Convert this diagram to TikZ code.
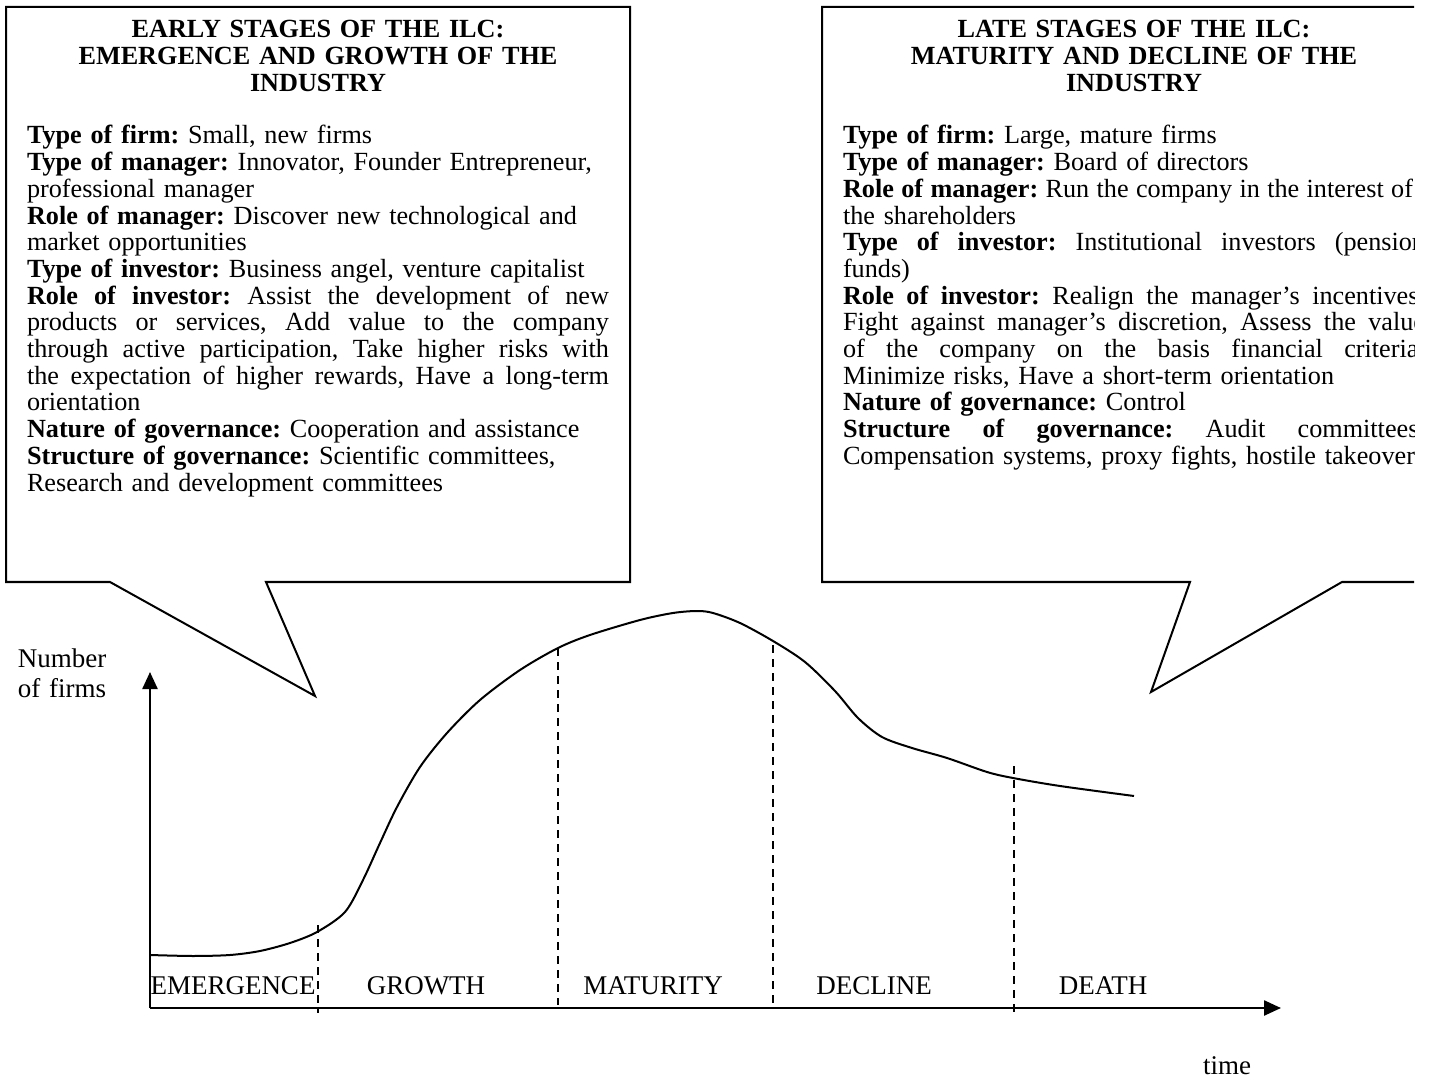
\documentclass[tikz,border=0pt]{standalone}
\usepackage{fontspec}
\setmainfont{Liberation Serif}
\usetikzlibrary{arrows.meta}
\frenchspacing
\newcommand{\jline}[1]{\leavevmode\hbox to\linewidth{\spaceskip=0.25em plus 3em minus 0.05em\relax #1}}
\newcommand{\kline}[2]{\leavevmode\hbox to #1{\spaceskip=0.25em plus 3em minus 0.08em\relax #2}\hfil}
\newcommand{\rline}[1]{\leavevmode\hbox to\linewidth{#1\hfil}}
\begin{document}
\begin{tikzpicture}[x=0.5pt,y=-0.5pt,
  txt/.style={font=\fontsize{13.5}{15}\selectfont, inner sep=0pt, outer sep=0pt},
  body/.style={txt, font=\fontsize{13.1}{13.35}\selectfont, text width=291pt, align=left, anchor=base west},
  ttl/.style={txt, font=\fontsize{13.1}{13.3}\selectfont\bfseries, text width=312pt, align=center, anchor=base},
  boxline/.style={line width=1pt, line join=miter},
  axisline/.style={line width=1.2pt, -{Triangle[length=8.5pt,width=7.5pt]}},
  curveline/.style={line width=1pt},
  divider/.style={line width=1pt, dash pattern=on 4pt off 3pt},
  stage/.style={txt, anchor=base}]
\useasboundingbox (0,0) rectangle (1429,1079);
\begin{scope}
\clip (0,0) rectangle (1414,1079);
% callout boxes
\draw[boxline] (266,582) -- (630,582) -- (630,7) -- (6,7) -- (6,582) -- (110,582) -- (315,696) -- cycle;
\draw[boxline] (1342,582) -- (1446,582) -- (1446,7) -- (822,7) -- (822,582) -- (1190,582) -- (1151,692) -- cycle;
% titles
\node[ttl] (t1) at (318,38) {EARLY STAGES OF THE ILC:\\EMERGENCE AND GROWTH OF THE\\INDUSTRY};
\node[ttl] (t2) at (1134,38) {LATE STAGES OF THE ILC:\\MATURITY AND DECLINE OF THE\\INDUSTRY};
% bodies
\node[body] (b1) at (27,144) {%
\rline{\textbf{Type of firm:} Small, new firms}\\
\rline{\textbf{Type of manager:} Innovator, Founder Entrepreneur,}\\
\rline{professional manager}\\
\rline{\textbf{Role of manager:} Discover new technological and}\\
\rline{market opportunities}\\
\rline{\textbf{Type of investor:} Business angel, venture capitalist}\\
\jline{\textbf{Role of investor:} Assist the development of new}\\
\jline{products or services, Add value to the company}\\
\jline{through active participation, Take higher risks with}\\
\jline{the expectation of higher rewards, Have a long-term}\\
\rline{orientation}\\
\rline{\textbf{Nature of governance:} Cooperation and assistance}\\
\rline{\textbf{Structure of governance:} Scientific committees,}\\
\rline{Research and development committees}};
\node[body] (b2) at (843,144) {%
\rline{\textbf{Type of firm:} Large, mature firms}\\
\rline{\textbf{Type of manager:} Board of directors}\\
\kline{285pt}{\textbf{Role of manager:} Run the company in the interest of}\\
\rline{the shareholders}\\
\jline{\textbf{Type of investor:} Institutional investors (pension}\\
\rline{funds)}\\
\jline{\textbf{Role of investor:} Realign the manager’s incentives,}\\
\jline{Fight against manager’s discretion, Assess the value}\\
\jline{of the company on the basis financial criteria,}\\
\rline{Minimize risks, Have a short-term orientation}\\
\rline{\textbf{Nature of governance:} Control}\\
\jline{\textbf{Structure of governance:} Audit committees,}\\
\rline{Compensation systems, proxy fights, hostile takeovers}};
\end{scope}
% axes
\coordinate (O) at (150,1008);
\coordinate (ytop) at (150,672);
\coordinate (xend) at (1281,1008);
\draw[axisline] (O) -- (ytop);
\draw[axisline] (O) -- (xend);
\node[txt, text width=60pt, align=center, anchor=base] (ylab) at (62,667) {Number\\of firms};
\node[txt, anchor=base] (xlab) at (1227,1074) {time};
% curve
\draw[curveline] plot[smooth, tension=0.5] coordinates {
 (150,955) (193,956) (230,955) (260,951) (290,943) (317,932) (345,912)
 (363,880) (380,843) (397,807) (420,767) (447,733) (480,700) (520,670)
 (558,648) (590,635) (640,620) (673,613) (697,611) (713,613) (740,623)
 (773,641) (805,662) (835,691) (858,718) (882,737) (912,748) (947,758)
 (987,772) (1013,778) (1060,786) (1134,796)};
% dividers
\coordinate (d1a) at (318,925); \coordinate (d1b) at (318,1013);
\coordinate (d2a) at (558,648); \coordinate (d2b) at (558,1005);
\coordinate (d3a) at (773,645); \coordinate (d3b) at (773,1005);
\coordinate (d4a) at (1014,766); \coordinate (d4b) at (1014,1012);
\draw[divider] (d1a) -- (d1b);
\draw[divider] (d2a) -- (d2b);
\draw[divider] (d3a) -- (d3b);
\draw[divider] (d4a) -- (d4b);
% stage labels
\node[stage] (s1) at (233,994) {EMERGENCE};
\node[stage] (s2) at (426,994) {GROWTH};
\node[stage] (s3) at (653,994) {MATURITY};
\node[stage] (s4) at (874,994) {DECLINE};
\node[stage] (s5) at (1103,994) {DEATH};
\end{tikzpicture}
\end{document}
